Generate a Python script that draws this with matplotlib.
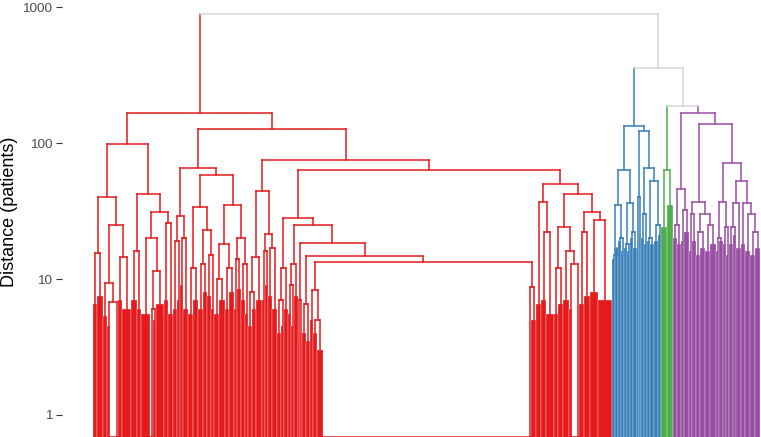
import matplotlib
matplotlib.use("Agg")
import matplotlib.pyplot as plt

plt.rcParams['font.family'] = ['Liberation Sans', 'DejaVu Sans']

# tree nodes: (merge height, left, right)
# leaf groups: [number of patients, height of their own sub-tree]
# a group with height 0 = identical patients merged at distance 0

red_left = (98,
    (40,
        (15.5, [4, 6.5], [6, 7.5]),
        (25,
            (9.4, [4, 5.3], (6.8, [3, 4.5], [8, 0])),
            (14.5, [4, 7], [9, 6]))),
    (42,
        (16, [6, 7], [4, 6]),
        (31,
            (20, [9, 5.5], (11.5, (6, [3, 0], [3, 5]), [8, 6.5])),
            (26, [4, 7], [5, 5.5]))))

red_mid = (65,
    (29, (19, [4, 6], [3, 7]), (20, [3, 9], [5, 6])),
    (58,
        (34,
            (12, [5, 5.5], [5, 7]),
            (23, (13, [5, 6], [4, 8]), (15, [4, 7.5], [3, 6]))),
        (35,
            (18, (10, [5, 5.5], [6, 7]), (12, [4, 6], [5, 8])),
            (20, (14, [3, 6], [4, 8.5]), (13, [4, 7], [3, 5.5])))))

red_pair = (44,
    (14.5, (8, [4, 4.5], [4, 6]), [6, 7]),
    (21.5, (16, [3, 7], [3, 9]), (17, [4, 7.5], [5, 6])))

red_ladder = (28,
    (12, (7, [4, 4], [3, 4.5]), [4, 6]),
    (25,
        (13, (9, [3, 5.5], [3, 4.5]), [4, 7.5]),
        (18.4,
            (7, [2, 3.5], [2, 4]),
            (14.8,
                (6.5, [4, 4], [4, 3.5]),
                (13.3,
                    (8.3, [3, 5], (5, [4, 4], [6, 3])),
                    (8.7, [208, 0], [5, 5]))))))

red_right = (50,
    (37, [5, 6.5], (22, [5, 7], [8, 5.5])),
    (42,
        (24, (12, [4, 5.5], [5, 6.5]), (16, [6, 7], (13, [3, 6], [7, 0]))),
        (31, (22, [5, 6.5], [6, 7.5]), (27, [8, 8], [14, 7]))))

red = (166, red_left, (127, red_mid, (75, red_pair, (63, red_ladder, red_right))))

blue = (133,
    (63,
        (35, (15, [3, 14], [3, 17]), (20, [3, 19], [3, 16])),
        (36, (18, [3, 17], [3, 16]), (22, [3, 20], [4, 17]))),
    (123,
        (40, [2, 19], [2, 21]),
        (65, (30, [3, 20], [3, 18]),
             (53, (20, [3, 19], [4, 18]), (25, [4, 19], [3, 21])))))

green = (63, [6, 24], [6, 35])

purple = (166,
    (46, (25, [4, 20], [4, 18]), (32, [3, 19], [5, 22])),
    (137,
        (37, (30, [3, 16], [4, 19]),
             (30, (22, [4, 15], [5, 17]), (25, [5, 16], [6, 18]))),
        (71,
            (37, (20, [3, 16], [4, 19]), (24, [3, 18], [3, 15])),
            (53,
                (36, (24, [4, 18], [3, 21]), [5, 17]),
                (36, [4, 18], (30, [5, 16], (22, [5, 15], [5, 17])))))))

# grey joins: green+purple, blue+(green,purple), red+rest
join_heights = [187, 356, 889]

RED, BLUE, GREEN, PURPLE, GREY = '#E41A1C', '#377EB8', '#4DAF4A', '#984EA3', '#D6D6D6'
LOW, HIGH = 0.689, 1126
LW = 1.1

fig = plt.figure(figsize=(7.61, 4.37), dpi=100)
ax = fig.add_axes([62 / 761, 0, 699 / 761, 1])
ax.set_yscale('log')


def link(xl, hl, cl, xr, hr, cr, h, ch):
    kw = dict(lw=LW, solid_capstyle='projecting')
    ax.plot([xl, xl], [hl, h], color=cl, **kw)
    ax.plot([xr, xr], [hr, h], color=cr, **kw)
    ax.plot([xl, xr], [h, h], color=ch, **kw)
    return (xl + xr) / 2


def place(t, start, c):
    if isinstance(t, list):
        n, h = t
        if h == 0:
            x = start + 0.5
            for k in range(1, n):
                x = (x + start + k + 0.5) / 2
            ax.plot([start, start + n], [LOW, LOW], color=c, lw=LW)
            return x, 0.5, start + n
        ax.bar(start, h - 0.5, bottom=0.5, width=n, align='edge',
               color=c, edgecolor='#FFFFFF', linewidth=0.2)
        return start + n / 2, h, start + n
    h, left, right = t
    xl, hl, s = place(left, start, c)
    xr, hr, s = place(right, s, c)
    return link(xl, hl, c, xr, hr, c, h, c), h, s


xr_, hr_, s = place(red, 0, RED)
xb, hb, s = place(blue, s, BLUE)
xg, hg, s = place(green, s, GREEN)
xp, hp, s = place(purple, s, PURPLE)

x2 = link(xg, hg, GREEN, xp, hp, PURPLE, join_heights[0], GREY)
x1 = link(xb, hb, BLUE, x2, join_heights[0], GREY, join_heights[1], GREY)
link(xr_, hr_, RED, x1, join_heights[1], GREY, join_heights[2], GREY)

ax.set_xlim(-31, 668)
ax.set_ylim(LOW, HIGH)
ax.set_yticks([1, 10, 100, 1000])
ax.set_yticklabels(['1', '10', '100', '1000'])
ax.minorticks_off()
ax.tick_params(axis='y', length=4, width=0.8, color='#333333',
               labelcolor='#4D4D4D', labelsize=9.7, pad=3)
ax.tick_params(axis='x', bottom=False, labelbottom=False)
for sp in ax.spines.values():
    sp.set_visible(False)

fig.text(10 / 761, 1 - 212 / 437, 'Distance (patients)', rotation=90,
         ha='center', va='center', fontsize=13)

fig.savefig('out.png', dpi=100)
